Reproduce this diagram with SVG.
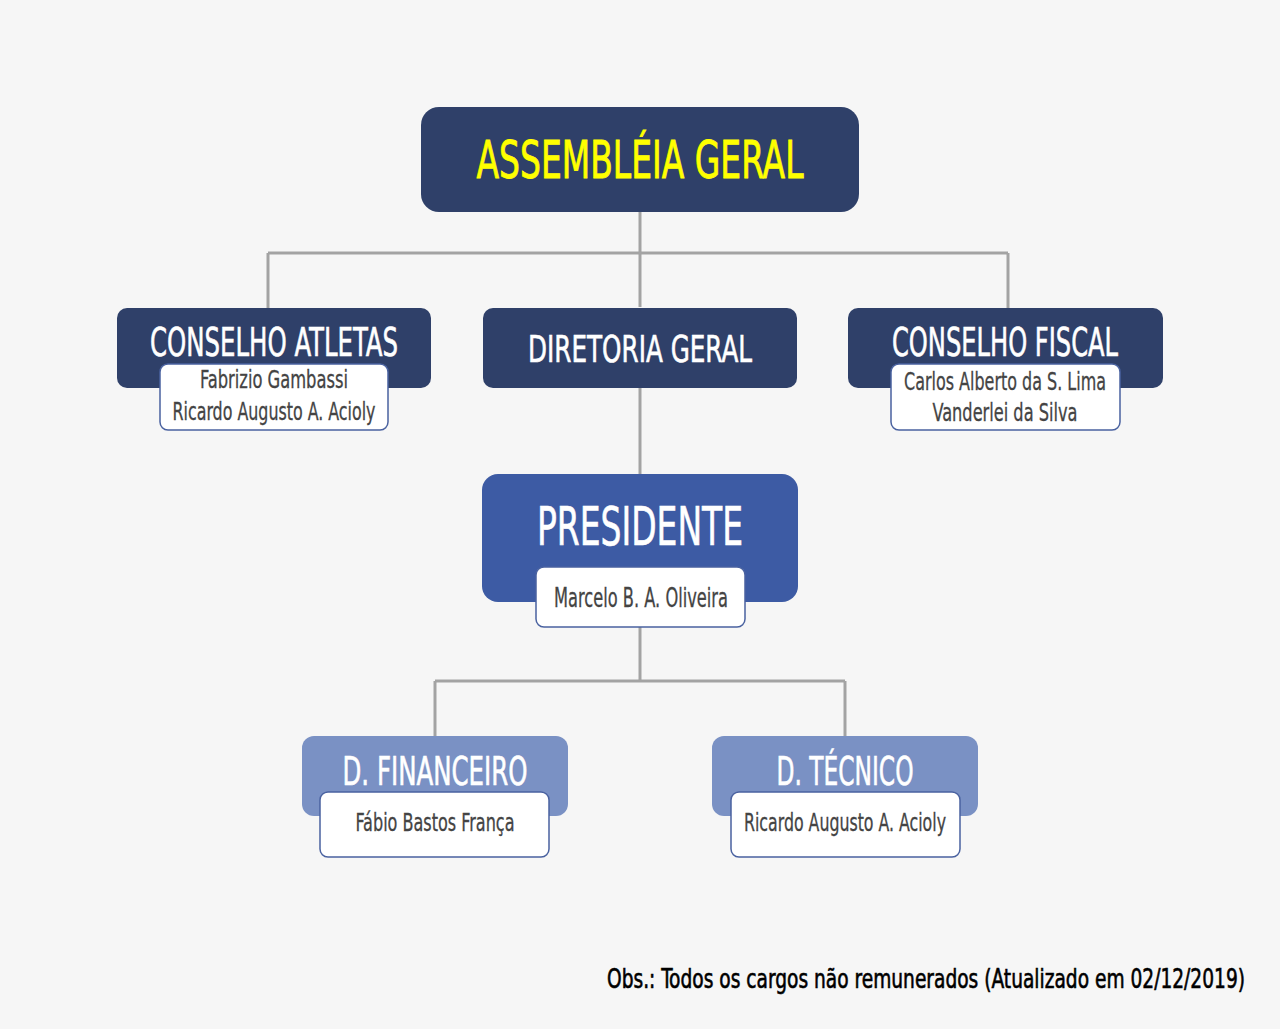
<svg xmlns="http://www.w3.org/2000/svg" width="1280" height="1029" viewBox="0 0 1280 1029">
<style>
.t{font-family:"DejaVu Sans Condensed","Liberation Sans",sans-serif;text-anchor:middle}
.h{fill:#ffffff;stroke:#ffffff;stroke-width:0.6}
.s{fill:#444444;stroke:#444444;stroke-width:0.3}
.sub{fill:#ffffff;stroke:#4a62a0;stroke-width:1.5}
.dark{fill:#2f4069}
.mid{fill:#3d5ba4}
.light{fill:#7a91c4}
.conn{stroke:#a3a3a3;stroke-width:3;fill:none}
</style>
<rect width="1280" height="1029" fill="#f6f6f6"/>
<g id="connectors">
<path class="conn" d="M640 212V307M268 253H1008M268 253V308M1008 253V308M640 388V474M640 627V681M435 681H845M435 681V736M845 681V736"/>
</g>
<g id="assembleia">
<rect class="dark" x="421" y="107" width="438" height="105" rx="18"/>
<text class="t" x="640" y="178" font-size="51" fill="#ffff00" stroke="#ffff00" stroke-width="0.8" textLength="327" lengthAdjust="spacingAndGlyphs">ASSEMBLÉIA GERAL</text>
</g>
<g id="conselho-atletas">
<rect class="dark" x="117" y="308" width="314" height="80" rx="10"/>
<text class="t h" x="274" y="356" font-size="39" textLength="248" lengthAdjust="spacingAndGlyphs">CONSELHO ATLETAS</text>
<rect class="sub" x="160" y="364" width="228" height="66" rx="8"/>
<text class="t s" x="274" y="388" font-size="24" textLength="148" lengthAdjust="spacingAndGlyphs">Fabrizio Gambassi</text>
<text class="t s" x="274" y="420" font-size="24" textLength="203" lengthAdjust="spacingAndGlyphs">Ricardo Augusto A. Acioly</text>
</g>
<g id="diretoria-geral">
<rect class="dark" x="483" y="308" width="314" height="80" rx="10"/>
<text class="t h" x="640" y="362" font-size="38" textLength="224" lengthAdjust="spacingAndGlyphs">DIRETORIA GERAL</text>
</g>
<g id="conselho-fiscal">
<rect class="dark" x="848" y="308" width="315" height="80" rx="10"/>
<text class="t h" x="1005" y="356" font-size="39" textLength="226" lengthAdjust="spacingAndGlyphs">CONSELHO FISCAL</text>
<rect class="sub" x="891" y="364" width="229" height="66" rx="8"/>
<text class="t s" x="1005" y="390" font-size="24" textLength="202" lengthAdjust="spacingAndGlyphs">Carlos Alberto da S. Lima</text>
<text class="t s" x="1005" y="421" font-size="24" textLength="145" lengthAdjust="spacingAndGlyphs">Vanderlei da Silva</text>
</g>
<g id="presidente">
<rect class="mid" x="482" y="474" width="316" height="128" rx="16"/>
<text class="t h" x="640" y="545" font-size="53" textLength="206" lengthAdjust="spacingAndGlyphs">PRESIDENTE</text>
<rect class="sub" x="536" y="567" width="209" height="60" rx="8" stroke="#2f4069"/>
<text class="t s" x="641" y="607" font-size="26" textLength="174" lengthAdjust="spacingAndGlyphs">Marcelo B. A. Oliveira</text>
</g>
<g id="d-financeiro">
<rect class="light" x="302" y="736" width="266" height="80" rx="12"/>
<text class="t h" x="435" y="785" font-size="39" textLength="185" lengthAdjust="spacingAndGlyphs">D. FINANCEIRO</text>
<rect class="sub" x="320" y="792" width="229" height="65" rx="8" stroke="#7a91c4"/>
<text class="t s" x="435" y="831" font-size="24" textLength="159" lengthAdjust="spacingAndGlyphs">Fábio Bastos França</text>
</g>
<g id="d-tecnico">
<rect class="light" x="712" y="736" width="266" height="80" rx="12"/>
<text class="t h" x="845" y="785" font-size="39" textLength="137" lengthAdjust="spacingAndGlyphs">D. TÉCNICO</text>
<rect class="sub" x="731" y="792" width="229" height="65" rx="8" stroke="#7a91c4"/>
<text class="t s" x="845" y="831" font-size="24" textLength="202" lengthAdjust="spacingAndGlyphs">Ricardo Augusto A. Acioly</text>
</g>
<text class="t" x="926" y="658.7" transform="scale(1 1.5)" font-size="18" fill="#000000" stroke="#000000" stroke-width="0.4" textLength="638" lengthAdjust="spacingAndGlyphs">Obs.: Todos os cargos não remunerados (Atualizado em 02/12/2019)</text>
</svg>
